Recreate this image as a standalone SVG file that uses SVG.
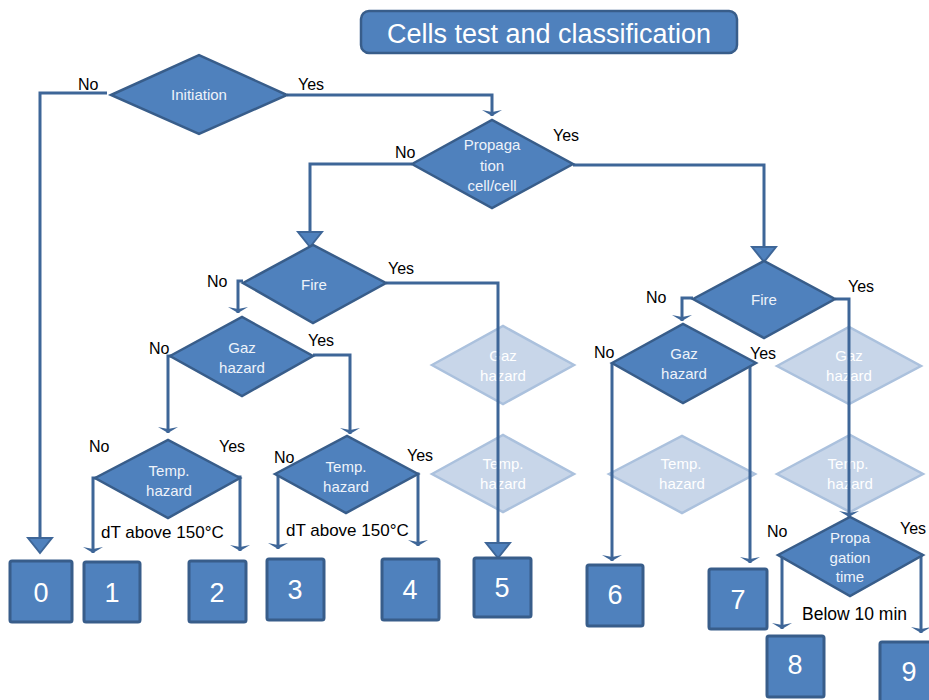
<svg xmlns="http://www.w3.org/2000/svg" width="929" height="700" viewBox="0 0 929 700">
<style>
.d{fill:#4F81BD;stroke:#385D8A;stroke-width:2.5}
.g{fill:#C8D6E9;stroke:#ABC1DD;stroke-width:2.5}
.b{fill:#4F81BD;stroke:#385D8A;stroke-width:3}
.dt{font-family:"Liberation Sans",Arial,sans-serif;font-size:15px;fill:#EEF3FA;text-anchor:middle}
.gt{font-family:"Liberation Sans",Arial,sans-serif;font-size:15px;fill:#FFFFFF;text-anchor:middle}
.l{font-family:"Liberation Sans",Arial,sans-serif;font-size:16px;fill:#000}
.n{font-family:"Liberation Sans",Arial,sans-serif;font-size:27px;fill:#FFFFFF;text-anchor:middle}
.c{fill:none;stroke:#3E6698;stroke-width:3}
</style>
<defs>
<marker id="big" markerUnits="userSpaceOnUse" viewBox="-1 -14 18 28" markerWidth="18" markerHeight="28" refX="0" refY="0" orient="auto">
<path d="M0,-12 L15,0 L0,12 Z" fill="#4F81BD" stroke="#3E6698" stroke-width="2"/>
</marker>
<marker id="sm" markerUnits="userSpaceOnUse" viewBox="-1 -11 8 22" markerWidth="8" markerHeight="22" refX="6" refY="0" orient="auto">
<path d="M6,0 L0,-10 L2,0 L0,10 Z" fill="#3E6698"/>
</marker>
</defs>

<g id="title">
<rect x="361" y="11" width="376" height="42" rx="8" fill="#4F81BD" stroke="#385D8A" stroke-width="2.5"/>
<text x="549" y="43" font-family="'Liberation Sans',Arial,sans-serif" font-size="27" fill="#FFFFFF" text-anchor="middle">Cells test and classification</text>
</g>

<g id="ghosts">
<g id="ghost-gaz-1"><polygon class="g" points="432,365 503,326 574,365 503,404"/><text class="gt" x="503" y="361">Gaz</text><text class="gt" x="503" y="381">hazard</text></g>
<g id="ghost-temp-1"><polygon class="g" points="432,474 503,435 574,474 503,512"/><text class="gt" x="503" y="469">Temp.</text><text class="gt" x="503" y="489">hazard</text></g>
<g id="ghost-temp-2"><polygon class="g" points="609,474 682,436 755,474 682,513"/><text class="gt" x="681" y="469">Temp.</text><text class="gt" x="682" y="489">hazard</text></g>
<g id="ghost-gaz-2"><polygon class="g" points="777,366 849,327 921,366 849,404"/><text class="gt" x="849" y="361">Gaz</text><text class="gt" x="849" y="381">hazard</text></g>
<g id="ghost-temp-3"><polygon class="g" points="777,474 850,435 923,474 850,512"/><text class="gt" x="848" y="469">Temp.</text><text class="gt" x="850" y="489">hazard</text></g>
</g>

<g id="connectors">
<path class="c" d="M107,93 H40 V538" marker-end="url(#big)"/>
<path class="c" d="M287,95 H492 V116" marker-end="url(#sm)"/>
<path class="c" d="M412,164 H310 V232" marker-end="url(#big)"/>
<path class="c" d="M573,165 H764 V247" marker-end="url(#big)"/>
<path class="c" d="M243,281 H238 V313" marker-end="url(#sm)"/>
<path class="c" d="M386,283 H498 V543" marker-end="url(#big)"/>
<path class="c" d="M185,356 H168 V433" marker-end="url(#sm)"/>
<path class="c" d="M313,355 H350 V434" marker-end="url(#sm)"/>
<path class="c" d="M110,478 H93 V553" marker-end="url(#sm)"/>
<path class="c" d="M228,477 H240 V551" marker-end="url(#sm)"/>
<path class="c" d="M296,474 H278 V549" marker-end="url(#sm)"/>
<path class="c" d="M405,474 H418 V546" marker-end="url(#sm)"/>
<path class="c" d="M693,298 H682 V321" marker-end="url(#sm)"/>
<path class="c" d="M835,299 H849 V517" marker-end="url(#sm)"/>
<path class="c" d="M612,363 V561" marker-end="url(#sm)"/>
<path class="c" d="M730,365 H750 V563" marker-end="url(#sm)"/>
<path class="c" d="M790,555 H782 V629" marker-end="url(#sm)"/>
<path class="c" d="M912,555 H921 V633" marker-end="url(#sm)"/>
</g>

<g id="initiation"><polygon class="d" points="111,95 199,55 287,95 199,134"/><text class="dt" x="199" y="100">Initiation</text></g>
<g id="propagation"><polygon class="d" points="412,164 492,120 573,164 492,208"/><text class="dt" x="492" y="150">Propaga</text><text class="dt" x="492" y="171">tion</text><text class="dt" x="492" y="191">cell/cell</text></g>
<g id="fire-left"><polygon class="d" points="243,283 313,245 386,283 313,323"/><text class="dt" x="314" y="290">Fire</text></g>
<g id="gaz-left"><polygon class="d" points="170,356 242,317 313,356 242,396"/><text class="dt" x="242" y="353">Gaz</text><text class="dt" x="242" y="373">hazard</text></g>
<g id="temp-left"><polygon class="d" points="95,478 168,440 240,478 168,518"/><text class="dt" x="169" y="476">Temp.</text><text class="dt" x="169" y="496">hazard</text></g>
<g id="temp-mid"><polygon class="d" points="275,474 347,436 418,474 346,513"/><text class="dt" x="346" y="472">Temp.</text><text class="dt" x="346" y="492">hazard</text></g>
<g id="fire-right"><polygon class="d" points="693,299 764,261 835,299 764,338"/><text class="dt" x="764" y="305">Fire</text></g>
<g id="gaz-right"><polygon class="d" points="612,363 683,324 756,363 683,403"/><text class="dt" x="684" y="359">Gaz</text><text class="dt" x="684" y="379">hazard</text></g>
<g id="prop-time"><polygon class="d" points="778,555 850,517 923,555 850,596"/><text class="dt" x="850" y="543">Propa</text><text class="dt" x="850" y="563">gation</text><text class="dt" x="850" y="582">time</text></g>

<g id="labels">
<text class="l" x="78" y="90">No</text>
<text class="l" x="298" y="90">Yes</text>
<text class="l" x="395" y="158">No</text>
<text class="l" x="553" y="141">Yes</text>
<text class="l" x="207" y="287">No</text>
<text class="l" x="388" y="274">Yes</text>
<text class="l" x="149" y="354">No</text>
<text class="l" x="308" y="346">Yes</text>
<text class="l" x="89" y="452">No</text>
<text class="l" x="219" y="452">Yes</text>
<text class="l" x="274" y="463">No</text>
<text class="l" x="407" y="461">Yes</text>
<text class="l" x="646" y="303">No</text>
<text class="l" x="848" y="292">Yes</text>
<text class="l" x="594" y="358">No</text>
<text class="l" x="750" y="359">Yes</text>
<text class="l" x="767" y="537">No</text>
<text class="l" x="900" y="534">Yes</text>
<text class="l" x="101" y="538" style="font-size:17px">dT above 150°C</text>
<text class="l" x="286" y="536" style="font-size:17px">dT above 150°C</text>
<text class="l" x="802" y="620" style="font-size:17.5px">Below 10 min</text>
</g>

<g id="box0"><rect class="b" x="10" y="561" width="62" height="61" rx="2"/><text class="n" x="41" y="602">0</text></g>
<g id="box1"><rect class="b" x="84" y="562" width="56" height="60" rx="2"/><text class="n" x="112" y="602">1</text></g>
<g id="box2"><rect class="b" x="189" y="561" width="57" height="61" rx="2"/><text class="n" x="217" y="602">2</text></g>
<g id="box3"><rect class="b" x="267" y="559" width="57" height="61" rx="2"/><text class="n" x="295" y="599">3</text></g>
<g id="box4"><rect class="b" x="382" y="559" width="57" height="61" rx="2"/><text class="n" x="410" y="599">4</text></g>
<g id="box5"><rect class="b" x="474" y="558" width="57" height="59" rx="2"/><text class="n" x="502" y="597">5</text></g>
<g id="box6"><rect class="b" x="587" y="565" width="56" height="61" rx="2"/><text class="n" x="615" y="604">6</text></g>
<g id="box7"><rect class="b" x="709" y="569" width="58" height="60" rx="2"/><text class="n" x="738" y="609">7</text></g>
<g id="box8"><rect class="b" x="767" y="636" width="57" height="61" rx="2"/><text class="n" x="795" y="674">8</text></g>
<g id="box9"><rect class="b" x="880" y="642" width="60" height="62" rx="2"/><text class="n" x="909" y="681">9</text></g>
</svg>
